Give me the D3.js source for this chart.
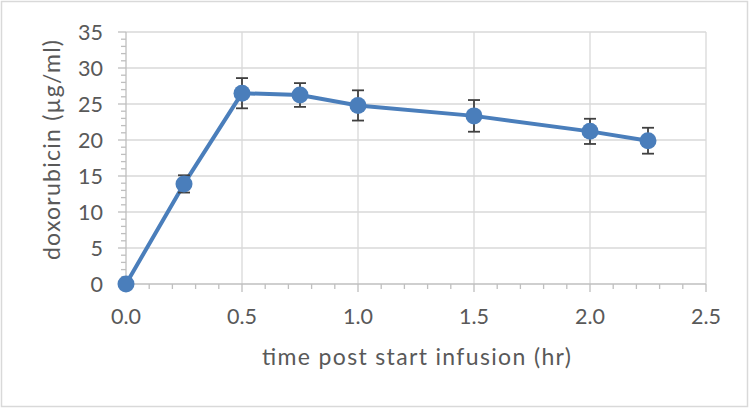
<!DOCTYPE html>
<html><head><meta charset="utf-8">
<script src="https://cdn.jsdelivr.net/npm/d3@7"></script>
<style>body{margin:0;background:#fff}svg{display:block}text{font-family:Lato, sans-serif;fill:#595959}</style>
</head><body><svg id="c" width="750" height="409"></svg>
<script>
const times = [0, 0.25, 0.5, 0.75, 1.0, 1.5, 2.0, 2.25];
const conc = [0, 13.9, 26.5, 26.25, 24.8, 23.35, 21.2, 19.9];
const errs = [0, 1.2, 2.1, 1.65, 2.1, 2.2, 1.75, 1.8];
const xTicks = [0, 0.5, 1.0, 1.5, 2.0, 2.5];
const yTicks = [0, 5, 10, 15, 20, 25, 30, 35];
const xTitle = "time post start infusion (hr)";
const yTitle = "doxorubicin (µg/ml)";

const svg = d3.select("#c");
svg.append("rect").attr("x",1.5).attr("y",1.5).attr("width",746).attr("height",405)
  .attr("fill","#fff").attr("stroke","#d9d9d9").attr("stroke-width",1.5);

const x = d3.scaleLinear().domain([0,2.5]).range([126,706]);
const y = d3.scaleLinear().domain([0,35]).range([284,32]);

const grid = svg.append("g").attr("stroke","#d9d9d9").attr("stroke-width",1.3);
grid.selectAll(".h").data(yTicks.slice(1)).join("line")
  .attr("x1",x(0)).attr("x2",x(2.5)).attr("y1",d=>y(d)).attr("y2",d=>y(d));
grid.selectAll(".v").data(xTicks.slice(1)).join("line")
  .attr("y1",y(0)).attr("y2",y(35)).attr("x1",d=>x(d)).attr("x2",d=>x(d));

const ax = svg.append("g").attr("stroke","#bfbfbf").attr("stroke-width",1.3);
ax.append("line").attr("x1",x(0)).attr("x2",x(2.5)).attr("y1",y(0)).attr("y2",y(0));
ax.append("line").attr("x1",x(0)).attr("x2",x(0)).attr("y1",y(0)).attr("y2",y(35));
const xMinor = d3.range(0,26).map(i=>i/10);
ax.selectAll(".xm").data(xMinor).join("line")
  .attr("x1",d=>x(d)).attr("x2",d=>x(d)).attr("y1",y(0))
  .attr("y2",(d,i)=> i%5===0 ? y(0)+8 : y(0)+5);
const yMinor = d3.range(0,36);
ax.selectAll(".ym").data(yMinor).join("line")
  .attr("y1",d=>y(d)).attr("y2",d=>y(d)).attr("x2",x(0))
  .attr("x1",(d,i)=> i%5===0 ? x(0)-8 : x(0)-5);

svg.append("g").selectAll("text").data(xTicks).join("text")
  .attr("x",d=>x(d)).attr("y",324).attr("text-anchor","middle")
  .attr("font-size",21.5).text(d=>d3.format(".1f")(d));
svg.append("g").selectAll("text").data(yTicks).join("text")
  .attr("x",103).attr("y",d=>y(d)+7.5).attr("text-anchor","end")
  .attr("font-size",21.5).text(d=>d);

svg.append("text").attr("x",262).attr("y",365)
  .attr("font-size",23).attr("textLength",309).attr("lengthAdjust","spacing").text(xTitle);
svg.append("text").attr("transform","translate(60,260) rotate(-90)")
  .attr("font-size",23).attr("textLength",220).attr("lengthAdjust","spacing").text(yTitle);

const blue = "#4a7ebb";
const pts = times.map((t,i)=>({t,v:conc[i],e:errs[i]}));
svg.append("path").datum(pts).attr("fill","none").attr("stroke",blue)
  .attr("stroke-width",4).attr("stroke-linejoin","round")
  .attr("d",d3.line().x(d=>x(d.t)).y(d=>y(d.v)));

const eb = svg.append("g").attr("stroke","#404040").attr("stroke-width",1.8)
  .selectAll("g").data(pts.filter(d=>d.e>0)).join("g");
eb.append("line").attr("x1",d=>x(d.t)).attr("x2",d=>x(d.t))
  .attr("y1",d=>y(d.v+d.e)).attr("y2",d=>y(d.v-d.e));
eb.append("line").attr("x1",d=>x(d.t)-6).attr("x2",d=>x(d.t)+6)
  .attr("y1",d=>y(d.v+d.e)).attr("y2",d=>y(d.v+d.e));
eb.append("line").attr("x1",d=>x(d.t)-6).attr("x2",d=>x(d.t)+6)
  .attr("y1",d=>y(d.v-d.e)).attr("y2",d=>y(d.v-d.e));

svg.append("g").selectAll("circle").data(pts).join("circle")
  .attr("cx",d=>x(d.t)).attr("cy",d=>y(d.v)).attr("r",8.5).attr("fill",blue);
</script></body></html>
